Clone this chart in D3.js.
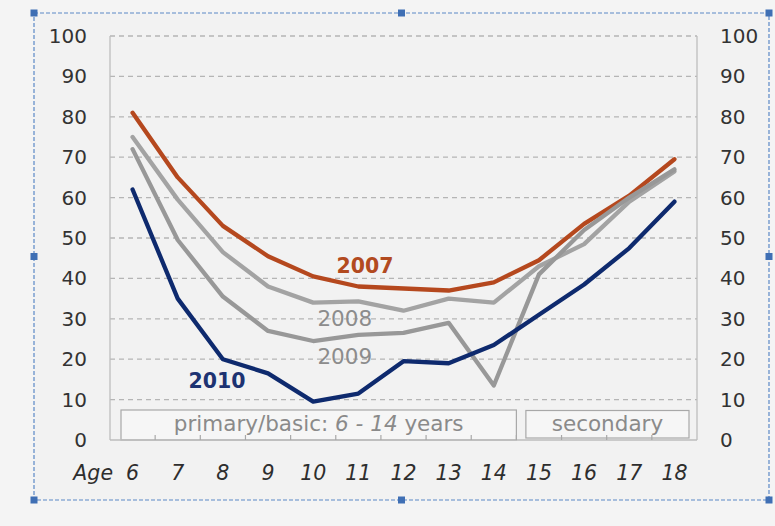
<!DOCTYPE html>
<html>
<head>
<meta charset="utf-8">
<script src="https://cdn.jsdelivr.net/npm/d3@7"></script>
<style>
  html, body { margin: 0; padding: 0; background: #f4f4f4; }
  svg { display: block; }
</style>
</head>
<body>
<svg id="chart" width="775" height="526"></svg>
<script>
// Ages on the category axis
const ages = [6, 7, 8, 9, 10, 11, 12, 13, 14, 15, 16, 17, 18];

// Share (%) by age, one array per year
const y2007 = [81, 65, 53, 45.5, 40.5, 38, 37.5, 37, 39, 44.5, 53.5, 60.5, 69.5];
const y2008 = [75, 59.5, 46.5, 38, 34, 34.3, 32, 35, 34, 43, 48.5, 59, 66.5];
const y2009 = [72, 49.5, 35.5, 27, 24.5, 26, 26.5, 29, 13.5, 41, 52, 60, 67];
const y2010 = [62, 35, 20, 16.5, 9.5, 11.5, 19.5, 19, 23.5, 31, 38.5, 47.5, 59];

const valueTicks = [0, 10, 20, 30, 40, 50, 60, 70, 80, 90, 100];
const seriesNames = ["2007", "2008", "2009", "2010"];
const stageLabels = ["primary/basic", "secondary"];

const series = [
  { name: seriesNames[0], values: y2007, color: "#b5481e", text: "#b24a1f", weight: "bold", at: [11.15, 43.1] },
  { name: seriesNames[1], values: y2008, color: "#a3a3a3", text: "#8c8c8c", weight: "normal", at: [10.7, 30] },
  { name: seriesNames[2], values: y2009, color: "#989898", text: "#8c8c8c", weight: "normal", at: [10.7, 20.7] },
  { name: seriesNames[3], values: y2010, color: "#0e2a6e", text: "#1d3372", weight: "bold", at: [7.87, 14.5] }
];

const svg = d3.select("#chart");
const font = "'DejaVu Sans', Verdana, sans-serif";

const plot = { left: 110, right: 697, top: 36, bottom: 440 };

const x = d3.scaleBand().domain(ages).range([plot.left, plot.right]);
const bw = x.bandwidth();
const cx = a => x(a) + bw / 2;
// continuous age position for annotations
const ax = d3.scaleLinear().domain([6, 18]).range([cx(6), cx(18)]);
const y = d3.scaleLinear().domain([0, 100]).range([plot.bottom, plot.top]);

// selection frame around the chart object
const frame = { l: 34, t: 13, r: 769, b: 500 };
svg.append("rect")
  .attr("x", frame.l).attr("y", frame.t)
  .attr("width", frame.r - frame.l).attr("height", frame.b - frame.t)
  .attr("fill", "#f2f2f2")
  .attr("stroke", "#5a88c6").attr("stroke-width", 1.2)
  .attr("stroke-dasharray", "4,2");

// gridlines
svg.append("g")
  .selectAll("line")
  .data(valueTicks.filter(v => v > 0))
  .join("line")
  .attr("x1", plot.left).attr("x2", plot.right)
  .attr("y1", d => y(d)).attr("y2", d => y(d))
  .attr("stroke", "#b5b5b5").attr("stroke-width", 1.3)
  .attr("stroke-dasharray", "5,4");

// stage boxes along the bottom of the plot
const boxes = [
  { x0: x(6) + 11, x1: x(15), y0: 410, y1: plot.bottom },
  { x0: x(15) + 9.5, x1: plot.right - 8, y0: 410.5, y1: plot.bottom - 2 }
];
svg.append("g")
  .selectAll("rect")
  .data(boxes)
  .join("rect")
  .attr("x", d => d.x0).attr("y", d => d.y0)
  .attr("width", d => d.x1 - d.x0).attr("height", d => d.y1 - d.y0)
  .attr("fill", "#f6f6f6")
  .attr("stroke", "#a8a8a8").attr("stroke-width", 1.2);

const t1 = svg.append("text")
  .attr("x", (boxes[0].x0 + boxes[0].x1) / 2).attr("y", 431)
  .attr("text-anchor", "middle")
  .attr("font-family", font).attr("font-size", 21.5).attr("fill", "#8a8a8a");
t1.append("tspan").text(stageLabels[0] + ": ");
t1.append("tspan").attr("font-style", "italic").text("6 - 14");
t1.append("tspan").text(" years");

svg.append("text")
  .attr("x", (boxes[1].x0 + boxes[1].x1) / 2).attr("y", 431)
  .attr("text-anchor", "middle")
  .attr("font-family", font).attr("font-size", 21.5).attr("fill", "#8a8a8a")
  .text(stageLabels[1]);

// axis frame lines
const axisColor = "#bdbdbd";
svg.append("line").attr("x1", plot.left).attr("x2", plot.left)
  .attr("y1", plot.top).attr("y2", plot.bottom)
  .attr("stroke", axisColor).attr("stroke-width", 1.3);
svg.append("line").attr("x1", plot.right).attr("x2", plot.right)
  .attr("y1", plot.top).attr("y2", plot.bottom)
  .attr("stroke", axisColor).attr("stroke-width", 1.3);
svg.append("line").attr("x1", plot.left).attr("x2", plot.right)
  .attr("y1", plot.bottom).attr("y2", plot.bottom)
  .attr("stroke", axisColor).attr("stroke-width", 1.3);

// small inward ticks between age categories
svg.append("g")
  .selectAll("line")
  .data(ages.slice(1))
  .join("line")
  .attr("x1", d => x(d)).attr("x2", d => x(d))
  .attr("y1", plot.bottom).attr("y2", plot.bottom - 5)
  .attr("stroke", "#a8a8a8").attr("stroke-width", 1.2);

// value axes, left and right
function styleAxis(g) {
  g.select(".domain").remove();
  g.selectAll("line").remove();
  g.selectAll("text")
    .attr("font-family", font).attr("font-size", 20).attr("fill", "#333");
}
svg.append("g")
  .attr("transform", `translate(${plot.left},0)`)
  .call(d3.axisLeft(y).tickValues(valueTicks).tickSize(0).tickPadding(23))
  .call(styleAxis);
svg.append("g")
  .attr("transform", `translate(${plot.right},0)`)
  .call(d3.axisRight(y).tickValues(valueTicks).tickSize(0).tickPadding(23))
  .call(styleAxis);

// age axis
svg.append("g")
  .attr("transform", `translate(0,${plot.bottom})`)
  .call(d3.axisBottom(x).tickSize(0).tickPadding(25))
  .call(g => {
    g.select(".domain").remove();
    g.selectAll("text")
      .attr("font-family", font).attr("font-size", 20.5)
      .attr("font-style", "italic").attr("fill", "#2e2e2e");
  });
svg.append("text")
  .attr("x", 113).attr("y", plot.bottom + 39.5)
  .attr("text-anchor", "end")
  .attr("font-family", font).attr("font-size", 20.5)
  .attr("font-style", "italic").attr("fill", "#2e2e2e")
  .text("Age");

// series lines
const line = d3.line()
  .x((d, i) => cx(ages[i]))
  .y(d => y(d));

svg.append("g")
  .selectAll("path")
  .data(series)
  .join("path")
  .attr("d", d => line(d.values))
  .attr("fill", "none")
  .attr("stroke", d => d.color)
  .attr("stroke-width", 4.3)
  .attr("stroke-linejoin", "round")
  .attr("stroke-linecap", "round");

// year labels
svg.append("g")
  .selectAll("text")
  .data(series)
  .join("text")
  .attr("x", d => ax(d.at[0]))
  .attr("y", d => y(d.at[1]))
  .attr("text-anchor", "middle")
  .attr("dominant-baseline", "central")
  .attr("font-family", font)
  .attr("font-size", d => d.weight === "bold" ? 20.5 : 21.5)
  .attr("font-weight", d => d.weight)
  .attr("fill", d => d.text)
  .text(d => d.name);

// frame handles
const handles = [
  [frame.l, frame.t], [(frame.l + frame.r) / 2, frame.t], [frame.r, frame.t],
  [frame.l, (frame.t + frame.b) / 2], [frame.r, (frame.t + frame.b) / 2],
  [frame.l, frame.b], [(frame.l + frame.r) / 2, frame.b], [frame.r, frame.b]
];
svg.append("g")
  .selectAll("rect")
  .data(handles)
  .join("rect")
  .attr("x", d => d[0] - 3.5).attr("y", d => d[1] - 3.5)
  .attr("width", 7).attr("height", 7)
  .attr("fill", "#3f6fb4");
</script>
</body>
</html>
